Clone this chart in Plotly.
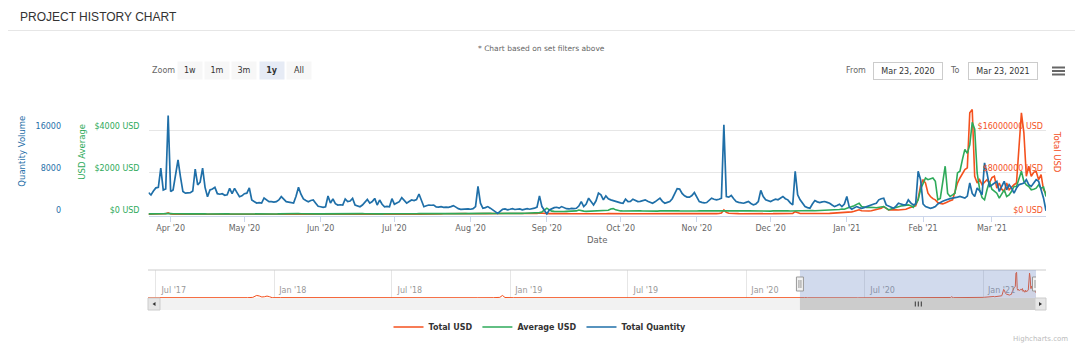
import pandas as pd
import plotly.graph_objects as go

# ---------------- data ----------------
dates = [d.strftime("%Y-%m-%d") for d in pd.date_range("2020-03-23", "2021-03-23", freq="D")]

total_quantity = [
    4150, 3700, 4450, 5050, 5150, 8780, 4650, 4850, 18800, 4350,
    4650, 7150, 10350, 7150, 4350, 4050, 4050, 4150, 4450, 8590,
    5600, 6150, 8780, 5150, 3380, 4650, 4850, 5150, 3950, 3850,
    3950, 3650, 3750, 4950, 3950, 4950, 4150, 3380, 3550, 3950,
    4050, 5030, 2750, 2450, 2170, 2250, 2170, 3130, 2850, 2430,
    2450, 2350, 2430, 2750, 3380, 2950, 2430, 2350, 2250, 2170,
    3450, 5160, 3850, 2950, 2650, 2430, 2650, 2750, 2150, 1550,
    1470, 1350, 1470, 3510, 2170, 2950, 2050, 1790, 1850, 1790,
    2950, 2450, 2550, 3050, 1790, 1650, 1470, 1790, 2250, 2850,
    2150, 2450, 3050, 1790, 2750, 1950, 1470, 1550, 1470, 3000,
    1950, 2150, 2430, 3190, 2650, 2150, 2450, 2750, 2650, 2850,
    3890, 2450, 1470, 1650, 1790, 1750, 1790, 1450, 1400, 1500,
    1370, 1400, 1350, 1500, 1690, 1400, 1100, 990, 1050, 1100,
    1050, 1000, 1100, 1500, 5330, 2140, 1180, 1300, 1500, 1200,
    800, 540, 220, 700, 990, 1050, 900, 990, 1100, 950,
    1000, 1050, 900, 1000, 1100, 1000, 1050, 1200, 1400, 3540,
    1500, 900, 100, 860, 1100, 1300, 1370, 1200, 1500, 1300,
    1100, 1050, 1150, 1100, 1180, 1600, 2460, 1500, 2000, 3100,
    2400, 1820, 2600, 4060, 3740, 2780, 3540, 3000, 2780, 2600,
    2460, 2300, 2200, 2140, 2910, 2460, 2500, 2910, 2600, 2460,
    2500, 2650, 2780, 2500, 2300, 2140, 2400, 2800, 3100, 2500,
    2140, 2300, 2460, 3000, 4060, 4890, 4820, 4000, 3540, 3300,
    3290, 3600, 4180, 3200, 2460, 2300, 2200, 2270, 2600, 3100,
    2900, 2780, 2900, 3100, 17020, 3420, 3300, 3610, 3000, 2460,
    2300, 2200, 2140, 2300, 2460, 2100, 1820, 2000, 2460, 4570,
    3420, 2780, 2600, 2460, 2700, 2910, 2800, 3100, 3420, 3000,
    2780, 2200, 1820, 8210, 3740, 2780, 2200, 1500, 1300, 1180,
    2000, 2650, 2400, 2270, 2400, 2460, 2300, 2140, 1800, 1500,
    1700, 1950, 1500, 2000, 3420, 1400, 990, 1200, 1500, 1300,
    1180, 1300, 1500, 1630, 1800, 2000, 2140, 2780, 3000, 3100,
    1820, 1600, 1400, 1180, 1600, 2140, 2000, 1820, 1820, 2780,
    2200, 1820, 2000, 8200, 6610, 2000, 1500, 1300, 1180, 1300,
    1500, 2000, 2300, 2500, 2700, 2780, 3000, 3100, 3150, 3300,
    3420, 3300, 3100, 3500, 5970, 4000, 3420, 5010, 4500, 3740,
    9800, 7890, 5330, 5600, 5970, 6290, 4370, 5500, 6290, 4690,
    5650, 5000, 4060, 5010, 5650, 5800, 5970, 6610, 5650, 5330,
    6000, 6610, 6290, 4690, 3100, 700,
]

average_usd = [
    30, 25, 35, 40, 30, 28, 35, 45, 60, 40,
    35, 30, 40, 35, 28, 30, 25, 30, 35, 40,
    30, 35, 40, 30, 25, 30, 35, 30, 28, 30,
    25, 30, 35, 30, 28, 32, 30, 25, 30, 35,
    30, 28, 25, 30, 35, 30, 25, 28, 30, 32,
    30, 28, 25, 30, 35, 30, 28, 25, 30, 35,
    40, 45, 35, 30, 28, 30, 35, 30, 25, 28,
    30, 32, 30, 35, 30, 28, 30, 35, 30, 28,
    30, 35, 32, 30, 28, 30, 35, 40, 35, 30,
    28, 30, 35, 30, 28, 30, 32, 30, 35, 40,
    35, 30, 28, 30, 35, 40, 38, 35, 30, 32,
    40, 35, 30, 28, 30, 35, 40, 45, 40, 38,
    40, 45, 50, 45, 40, 42, 45, 50, 48, 45,
    50, 55, 50, 48, 52, 60, 55, 50, 52, 55,
    50, 48, 52, 55, 50, 55, 60, 55, 52, 55,
    60, 58, 55, 60, 65, 60, 62, 70, 80, 90,
    120, 200, 300, 220, 160, 150, 140, 150, 145, 140,
    150, 155, 150, 160, 170, 215, 180, 160, 150, 155,
    150, 160, 170, 165, 160, 155, 170, 200, 260, 280,
    220, 180, 170, 165, 170, 175, 165, 160, 170, 175,
    170, 165, 160, 170, 175, 170, 165, 160, 170, 175,
    180, 170, 165, 180, 185, 175, 170, 165, 160, 165,
    170, 175, 170, 165, 170, 175, 180, 175, 180, 170,
    165, 170, 175, 170, 180, 190, 175, 170, 165, 170,
    175, 170, 165, 170, 175, 170, 165, 170, 175, 180,
    175, 170, 165, 160, 170, 175, 170, 165, 170, 175,
    170, 165, 170, 175, 190, 180, 170, 175, 180, 215,
    190, 175, 180, 185, 180, 190, 185, 190, 200, 210,
    220, 240, 260, 250, 300, 330, 360, 420, 480, 536,
    375, 340, 330, 340, 350, 330, 320, 340, 360, 380,
    300, 215, 260, 300, 350, 375, 400, 420, 440, 455,
    420, 340, 500, 695, 1200, 1500, 1730, 1650, 1700, 1730,
    1570, 695, 760, 1500, 2290, 1000, 855, 930, 1010, 1970,
    2050, 2600, 3090, 2900, 3300, 4370, 4050, 1970, 1200, 800,
    695, 1170, 1570, 1200, 1090, 1010, 775, 1000, 1170, 855,
    930, 1100, 1330, 1330, 1650, 2050, 1570, 1400, 1330, 1170,
    1200, 1250, 1410, 1250, 1300, 855,
]

total_usd = [
    40000, 35000, 50000, 60000, 45000, 50000, 80000, 150000, 320000, 90000,
    60000, 50000, 70000, 60000, 45000, 40000, 45000, 50000, 55000, 60000,
    50000, 55000, 60000, 45000, 40000, 45000, 50000, 55000, 45000, 40000,
    40000, 45000, 50000, 40000, 45000, 50000, 45000, 40000, 45000, 50000,
    45000, 50000, 40000, 35000, 40000, 45000, 40000, 45000, 50000, 40000,
    35000, 40000, 45000, 40000, 50000, 45000, 40000, 35000, 40000, 45000,
    55000, 70000, 50000, 45000, 40000, 45000, 50000, 45000, 40000, 35000,
    40000, 45000, 40000, 60000, 45000, 50000, 45000, 40000, 45000, 50000,
    55000, 50000, 45000, 50000, 45000, 40000, 45000, 50000, 55000, 50000,
    45000, 50000, 55000, 50000, 45000, 50000, 45000, 40000, 45000, 60000,
    55000, 50000, 60000, 70000, 60000, 55000, 60000, 65000, 60000, 70000,
    80000, 70000, 60000, 65000, 70000, 80000, 90000, 100000, 120000, 110000,
    130000, 150000, 140000, 160000, 180000, 150000, 170000, 200000, 180000, 160000,
    150000, 170000, 190000, 200000, 260000, 210000, 180000, 170000, 190000, 200000,
    180000, 160000, 150000, 170000, 190000, 200000, 180000, 170000, 160000, 180000,
    200000, 190000, 180000, 170000, 190000, 200000, 210000, 190000, 200000, 280000,
    220000, 200000, 180000, 170000, 160000, 180000, 190000, 200000, 180000, 170000,
    160000, 150000, 140000, 150000, 160000, 170000, 180000, 160000, 150000, 140000,
    150000, 160000, 150000, 140000, 130000, 140000, 150000, 160000, 170000, 160000,
    150000, 140000, 130000, 140000, 150000, 160000, 150000, 140000, 130000, 140000,
    150000, 140000, 130000, 120000, 130000, 140000, 150000, 140000, 130000, 140000,
    150000, 160000, 170000, 180000, 200000, 220000, 200000, 180000, 160000, 150000,
    140000, 150000, 160000, 150000, 140000, 130000, 140000, 150000, 160000, 170000,
    180000, 170000, 200000, 300000, 860000, 400000, 250000, 200000, 180000, 170000,
    160000, 150000, 140000, 150000, 160000, 170000, 160000, 150000, 160000, 200000,
    180000, 170000, 160000, 150000, 160000, 170000, 180000, 170000, 200000, 180000,
    170000, 160000, 200000, 540000, 300000, 200000, 180000, 170000, 160000, 180000,
    200000, 190000, 180000, 200000, 220000, 210000, 200000, 220000, 240000, 230000,
    250000, 280000, 300000, 350000, 400000, 450000, 500000, 600000, 700000, 900000,
    700000, 650000, 600000, 650000, 700000, 800000, 860000, 1000000, 1200000, 1500000,
    1100000, 860000, 900000, 950000, 880000, 860000, 900000, 860000, 1000000, 1180000,
    1400000, 1500000, 1630000, 3000000, 5500000, 6610000, 5970000, 4060000, 3420000, 3000000,
    2780000, 2270000, 2100000, 2010000, 2200000, 2460000, 2600000, 2780000, 4500000, 5970000,
    6930000, 7800000, 8520000, 8840000, 19300000, 19900000, 7250000, 5970000, 6610000, 5650000,
    6200000, 6610000, 5970000, 7000000, 7250000, 5010000, 5970000, 4800000, 4370000, 5970000,
    4690000, 5200000, 5650000, 5970000, 12360000, 19300000, 15550000, 7250000, 9160000, 7250000,
    8000000, 8200000, 6610000, 7570000, 4690000, 4000000,
]

# earlier history of Total USD, shown only in the navigator
history_dates = [
    "2017-06-19", "2017-07-10", "2017-08-01", "2017-08-24", "2017-09-15", "2017-10-08",
    "2017-10-30", "2017-11-20", "2017-11-28", "2017-12-04", "2017-12-08", "2017-12-12",
    "2017-12-16", "2017-12-20", "2017-12-24", "2017-12-28", "2018-01-10", "2018-02-05",
    "2018-03-01", "2018-03-25", "2018-04-20", "2018-05-15", "2018-06-10", "2018-07-05",
    "2018-07-30", "2018-08-25", "2018-09-20", "2018-10-15", "2018-11-10", "2018-12-05",
    "2018-12-15", "2018-12-19", "2018-12-23", "2019-01-05", "2019-02-01", "2019-03-01",
    "2019-04-01", "2019-05-01", "2019-06-01", "2019-07-01", "2019-08-01", "2019-09-01",
    "2019-10-01", "2019-11-01", "2019-12-01", "2020-01-01", "2020-02-01", "2020-03-01",
    "2020-03-22",
]
history_total_usd = [
    150000, 100000, 120000, 90000, 110000, 130000,
    100000, 150000, 400000, 1900000, 1500000, 700000,
    900000, 1400000, 900000, 150000, 200000, 150000,
    180000, 120000, 160000, 130000, 110000, 150000,
    120000, 100000, 130000, 110000, 120000, 150000,
    400000, 1900000, 300000, 150000, 120000, 100000,
    90000, 110000, 120000, 100000, 110000, 90000,
    100000, 80000, 90000, 70000, 60000, 50000,
    45000,
]

qty_ticks = [0, 8000, 16000, 24000]
qty_ticktext = ["0", "8000", "16000", ""]
avg_ticks = [0, 2000, 4000, 6000]
avg_ticktext = ["$0 USD", "$2000 USD", "$4000 USD", ""]
usd_ticks = [0, 8000000, 16000000, 24000000]
usd_ticktext = ["$0 USD", "$8000000 USD", "$16000000 USD", ""]

nav_ticks = ["2017-07-01", "2018-01-01", "2018-07-01", "2019-01-01",
             "2019-07-01", "2020-01-01", "2020-07-01", "2021-01-01"]
nav_ticktext = ["Jul '17", "Jan '18", "Jul '18", "Jan '19",
                "Jul '19", "Jan '20", "Jul '20", "Jan '21"]

zoom_buttons = ["1w", "1m", "3m", "1y", "All"]
active_button = "1y"

# ---------------- style ----------------
W, H = 1080, 343
FONT = "DejaVu Sans"
C_RED = "#f4511e"
C_GREEN = "#2eaa5a"
C_BLUE = "#1f6fa8"
LBL_SHIFT = -4


def px(x):
    return x / W


def py(y):
    return 1 - y / H


fig = go.Figure()

# "x3" is the base (hidden) date axis used by the Total USD series and its
# right-hand axis; "x" is the visible date axis overlaying it, used by the
# other two series, so the inside right-axis labels do not hide month labels.
fig.add_trace(go.Scatter(x=dates, y=total_usd, name="Total USD", mode="lines",
                         line=dict(color=C_RED, width=1.6), xaxis="x3", yaxis="y"))
fig.add_trace(go.Scatter(x=dates, y=average_usd, name="Average USD", mode="lines",
                         line=dict(color=C_GREEN, width=1.6), xaxis="x", yaxis="y2"))
fig.add_trace(go.Scatter(x=dates, y=total_quantity, name="Total Quantity", mode="lines",
                         line=dict(color=C_BLUE, width=1.7), xaxis="x", yaxis="y3"))
# navigator series
fig.add_trace(go.Scatter(x=history_dates + dates, y=history_total_usd + total_usd,
                         mode="lines", line=dict(color=C_RED, width=1),
                         fill="tozeroy", fillcolor="rgba(244,81,30,0.05)",
                         showlegend=False, hoverinfo="skip", xaxis="x2", yaxis="y4"))

main_dom = [py(215.5), py(88)]
main_xdom = [px(148.5), px(1046)]

fig.update_layout(
    width=W, height=H, autosize=False,
    margin=dict(l=0, r=0, t=0, b=0, autoexpand=False),
    paper_bgcolor="white", plot_bgcolor="white",
    font=dict(family=FONT, size=8, color="#666666"),
    xaxis3=dict(domain=main_xdom, anchor="y", type="date",
                range=[dates[0], dates[-1]], visible=False),
    xaxis=dict(overlaying="x3", anchor="y2", type="date",
               range=[dates[0], dates[-1]], tickformat="%b '%y", dtick="M1",
               tick0="2020-04-01", ticks="outside", ticklen=5, tickcolor="#ccd6eb",
               showline=True, linecolor="#ccd6eb", showgrid=False, zeroline=False,
               tickfont=dict(family=FONT, size=8, color="#666666"),
               title=dict(text="Date", font=dict(family=FONT, size=8.5, color="#666666"),
                          standoff=4)),
    yaxis=dict(domain=main_dom, anchor="x3", side="right",
               range=[-190000, 24000000],
               tickvals=usd_ticks, ticktext=usd_ticktext, ticklabelposition="inside",
               ticklabelshift=LBL_SHIFT,
               showgrid=True, gridcolor="#e6e6e6", zeroline=False, ticks="",
               tickfont=dict(family=FONT, size=8, color=C_RED)),
    yaxis2=dict(overlaying="y", anchor="x", side="left", range=[-47.5, 6000],
                tickvals=avg_ticks, ticktext=avg_ticktext, ticklabelposition="outside",
                ticklabelshift=LBL_SHIFT, showgrid=False,
                zeroline=False, ticks="", ticklabelstandoff=8,
                tickfont=dict(family=FONT, size=8, color=C_GREEN)),
    yaxis3=dict(overlaying="y", anchor="free", position=px(61), side="left",
                range=[-190, 24000], tickvals=qty_ticks, ticktext=qty_ticktext,
                ticklabelposition="outside", ticklabelshift=LBL_SHIFT,
                showgrid=False, zeroline=False, ticks="",
                tickfont=dict(family=FONT, size=8, color=C_BLUE)),
    xaxis2=dict(domain=[px(148), px(1036)], anchor="y4", type="date",
                range=[history_dates[0], dates[-1]], tickvals=nav_ticks, ticktext=nav_ticktext,
                ticklabelposition="inside", ticks="", ticklabelshift=18,
                showgrid=True, gridcolor="#e6e6e6", zeroline=False, showline=False,
                tickfont=dict(family=FONT, size=8, color="#999999")),
    yaxis4=dict(domain=[py(298), py(270)], anchor="x2", range=[-100000, 21700000],
                visible=False),
    legend=dict(orientation="h", x=0.5, xanchor="center", y=py(327), yanchor="middle",
                font=dict(family=FONT, size=8, color="#333333", weight="bold"),
                bgcolor="rgba(0,0,0,0)"),
    showlegend=True,
)

shapes = []
# header rule
shapes.append(dict(type="line", xref="paper", yref="paper", x0=px(8), x1=px(1075),
                   y0=py(30.5), y1=py(30.5), line=dict(color="#e6e6e6", width=1)))
# hamburger menu
for yy in (67.5, 71, 74.5):
    shapes.append(dict(type="line", xref="paper", yref="paper", x0=px(1052), x1=px(1065),
                       y0=py(yy), y1=py(yy), line=dict(color="#666666", width=2)))
# navigator outline
shapes.append(dict(type="line", xref="paper", yref="paper", x0=px(148), x1=px(1046),
                   y0=py(270), y1=py(270), line=dict(color="#cccccc", width=1)))
# navigator selection mask
shapes.append(dict(type="rect", xref="x2", yref="paper", x0=dates[0], x1=dates[-1],
                   y0=py(298), y1=py(270), fillcolor="rgba(102,133,194,0.3)",
                   line=dict(width=0), layer="above"))
# scrollbar track and thumb
shapes.append(dict(type="rect", xref="paper", yref="paper", x0=px(148), x1=px(1046),
                   y0=py(310), y1=py(298), fillcolor="#f2f2f2", line=dict(width=0)))
shapes.append(dict(type="rect", xref="x2", yref="paper", x0=dates[0], x1=dates[-1],
                   y0=py(310), y1=py(298), fillcolor="#cccccc", line=dict(width=0)))
# scrollbar buttons
for a, b in ((148, 160), (1035, 1046)):
    shapes.append(dict(type="rect", xref="paper", yref="paper", x0=px(a), x1=px(b),
                       y0=py(310), y1=py(298), fillcolor="#e6e6e6",
                       line=dict(color="#cccccc", width=1)))
# arrows
shapes.append(dict(type="path", xref="paper", yref="paper",
                   path=f"M {px(155.5)} {py(302)} L {px(152.5)} {py(304)} L {px(155.5)} {py(306)} Z",
                   fillcolor="#333333", line=dict(width=0)))
shapes.append(dict(type="path", xref="paper", yref="paper",
                   path=f"M {px(1039)} {py(302)} L {px(1042)} {py(304)} L {px(1039)} {py(306)} Z",
                   fillcolor="#333333", line=dict(width=0)))
# scrollbar grip
mid_date = dates[len(dates) // 2]
for off in (-3, 0, 3):
    shapes.append(dict(type="line", xref="x2", yref="paper", xsizemode="pixel",
                       xanchor=mid_date, x0=off, x1=off, y0=py(306.5), y1=py(301.5),
                       line=dict(color="#333333", width=1)))
# navigator handles
for d in (dates[0], dates[-1]):
    shapes.append(dict(type="rect", xref="x2", yref="paper", xsizemode="pixel",
                       xanchor=d, x0=-3.5, x1=3.5, y0=py(291), y1=py(277),
                       fillcolor="#f2f2f2", line=dict(color="#999999", width=1),
                       layer="above"))
    for off in (-1, 1):
        shapes.append(dict(type="line", xref="x2", yref="paper", xsizemode="pixel",
                           xanchor=d, x0=off, x1=off, y0=py(288), y1=py(280),
                           line=dict(color="#999999", width=1), layer="above"))

fig.update_layout(shapes=shapes)

ann = []
ann.append(dict(text="PROJECT HISTORY CHART", x=px(18), y=py(17.5), xanchor="left",
                yanchor="middle", font=dict(family="Liberation Sans", size=12, color="#333333")))
ann.append(dict(text="* Chart based on set filters above", x=px(541), y=py(48),
                xanchor="center", yanchor="middle",
                font=dict(family=FONT, size=7.5, color="#666666")))
ann.append(dict(text="Zoom", x=px(150), y=py(70.5), xanchor="left", yanchor="middle",
                font=dict(family=FONT, size=8, color="#666666")))
button_centers = [189.7, 216.5, 244, 271.5, 298.5]
for lab, cx in zip(zoom_buttons, button_centers):
    active = lab == active_button
    ann.append(dict(text=f"<b>{lab}</b>" if active else lab, x=px(cx), y=py(70.5),
                    xanchor="center", yanchor="middle", width=22, height=15, borderpad=1,
                    bgcolor="#e6ebf5" if active else "#f7f7f7",
                    font=dict(family=FONT, size=8, color="#333333")))
from_label = pd.Timestamp(dates[0]).strftime("%b %d, %Y")
to_label = pd.Timestamp(dates[-1]).strftime("%b %d, %Y")
ann.append(dict(text="From", x=px(868), y=py(70.5), xanchor="right", yanchor="middle",
                font=dict(family=FONT, size=8, color="#666666")))
ann.append(dict(text=from_label, x=px(907.5), y=py(70.5), xanchor="center", yanchor="middle",
                width=66, height=14, borderpad=1, bordercolor="#cccccc", borderwidth=1,
                bgcolor="white", font=dict(family=FONT, size=8, color="#333333")))
ann.append(dict(text="To", x=px(962), y=py(70.5), xanchor="right", yanchor="middle",
                font=dict(family=FONT, size=8, color="#666666")))
ann.append(dict(text=to_label, x=px(1002.5), y=py(70.5), xanchor="center", yanchor="middle",
                width=66, height=14, borderpad=1, bordercolor="#cccccc", borderwidth=1,
                bgcolor="white", font=dict(family=FONT, size=8, color="#333333")))
ann.append(dict(text="Quantity Volume", x=px(22), y=py(151.7), textangle=-90,
                xanchor="center", yanchor="middle",
                font=dict(family=FONT, size=8.5, color=C_BLUE)))
ann.append(dict(text="USD Average", x=px(82), y=py(151.7), textangle=-90,
                xanchor="center", yanchor="middle",
                font=dict(family=FONT, size=8.5, color=C_GREEN)))
ann.append(dict(text="Total USD", x=px(1057), y=py(151.7), textangle=90,
                xanchor="center", yanchor="middle",
                font=dict(family=FONT, size=8.5, color=C_RED)))
ann.append(dict(text="Highcharts.com", x=px(1070), y=py(339), xanchor="right",
                yanchor="middle", font=dict(family=FONT, size=7, color="#bbbbbb")))
for a in ann:
    a.update(xref="paper", yref="paper", showarrow=False)
fig.update_layout(annotations=ann)

fig.write_html("out.html")
